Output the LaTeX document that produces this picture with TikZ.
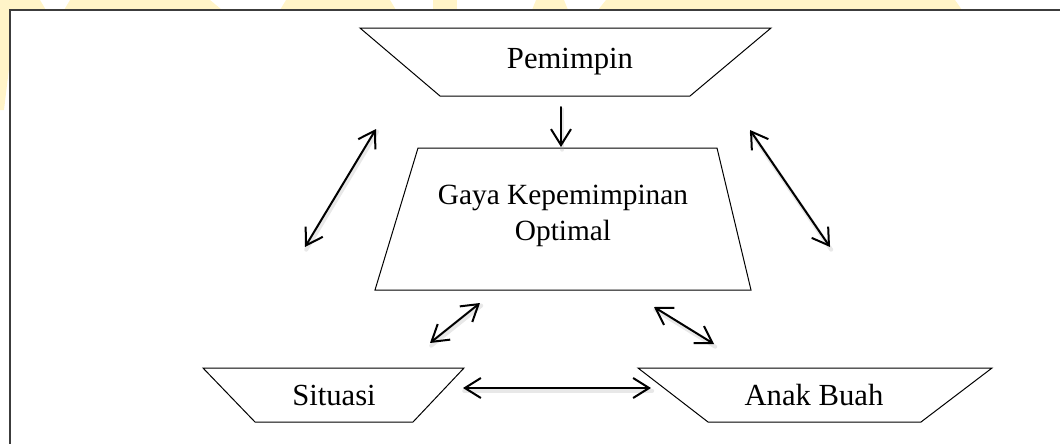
\documentclass[tikz,border=0pt]{standalone}
\usepackage{fontspec}
\setmainfont{Liberation Serif}
\usetikzlibrary{arrows.meta}
\definecolor{wmyellow}{RGB}{255,244,200}
\definecolor{framegray}{RGB}{60,60,60}
\begin{document}
\begin{tikzpicture}[x=0.75pt,y=-0.75pt,
  wm/.style={fill=wmyellow, draw=none},
  frame/.style={draw=framegray, line width=1.2pt, fill=white},
  shapeline/.style={draw=black, line width=0.75pt, line join=miter},
  lbl/.style={anchor=base, inner sep=0pt, font=\fontsize{23}{28}\selectfont},
  barb/.tip={Straight Barb[length=12pt,width=15pt,line width=1.5pt]},
  arr/.style={line width=1.5pt, line cap=round},
  shd/.style={line width=3pt, draw=black!40, opacity=0.22, line cap=round,
    transform canvas={shift={(0.9pt,-2pt)}}}
]
\useasboundingbox (0,0) rectangle (1060,443);
% watermark fragments
\fill[wm] (0,0) -- (40,0) -- (46,10) -- (0,10) -- cycle;
\fill[wm] (70,0) -- (210,0) -- (222,10) -- (64,10) -- cycle;
\fill[wm] (286,0) -- (390,0) -- (396,10) -- (280,10) -- cycle;
\fill[wm] (433,0) rectangle (457,10);
\fill[wm] (536,0) -- (564,0) -- (568,10) -- (532,10) -- cycle;
\fill[wm] (606,0) -- (955,0) -- (962,10) -- (598,10) -- cycle;
\fill[wm] (0,0) -- (10,0) -- (10,60) -- (4,110) -- (0,110) -- cycle;
% frame
\draw[frame] (10,10) rectangle (1075,460);
% shapes
\draw[shapeline] (360,28) -- (771,28) -- (690,96) -- (440,96) -- cycle;
\draw[shapeline] (418,148) -- (717,148) -- (751,290) -- (375,290) -- cycle;
\draw[shapeline] (203,368) -- (464,368) -- (413,422) -- (255,422) -- cycle;
\draw[shapeline] (638,368) -- (992,368) -- (921,422) -- (708,422) -- cycle;
% labels
\node[lbl] (pem) at (570,68) {Pemimpin};
\node[lbl, font=\fontsize{22}{28}\selectfont] (gaya) at (563,204) {\begin{tabular}[t]{@{}c@{}}Gaya Kepemimpinan\\[-0.5pt]Optimal\end{tabular}};
\node[lbl] (sit) at (334,405) {Situasi};
\node[lbl] (anak) at (814,405) {Anak Buah};
% connector end points
\coordinate (d1) at (561,107); \coordinate (d2) at (561,147);
\coordinate (l1) at (305,247); \coordinate (l2) at (376,129);
\coordinate (r1) at (750,130); \coordinate (r2) at (830,247);
\coordinate (sl1) at (430,343); \coordinate (sl2) at (480,303);
\coordinate (sr1) at (654,307); \coordinate (sr2) at (714,344);
\coordinate (h1) at (463,388); \coordinate (h2) at (651,388);
% shadows
\draw[shd] (d1) -- (d2);
\draw[shd] (l1) -- (l2);
\draw[shd] (r1) -- (r2);
\draw[shd] (sl1) -- (sl2);
\draw[shd] (sr1) -- (sr2);
\draw[shd] (h1) -- (h2);
% arrows
\draw[arr, -barb] (d1) -- (d2);
\draw[arr, barb-barb] (l1) -- (l2);
\draw[arr, barb-barb] (r1) -- (r2);
\draw[arr, barb-barb] (sl1) -- (sl2);
\draw[arr, barb-barb] (sr1) -- (sr2);
\draw[arr, barb-barb] (h1) -- (h2);
\end{tikzpicture}
\end{document}
